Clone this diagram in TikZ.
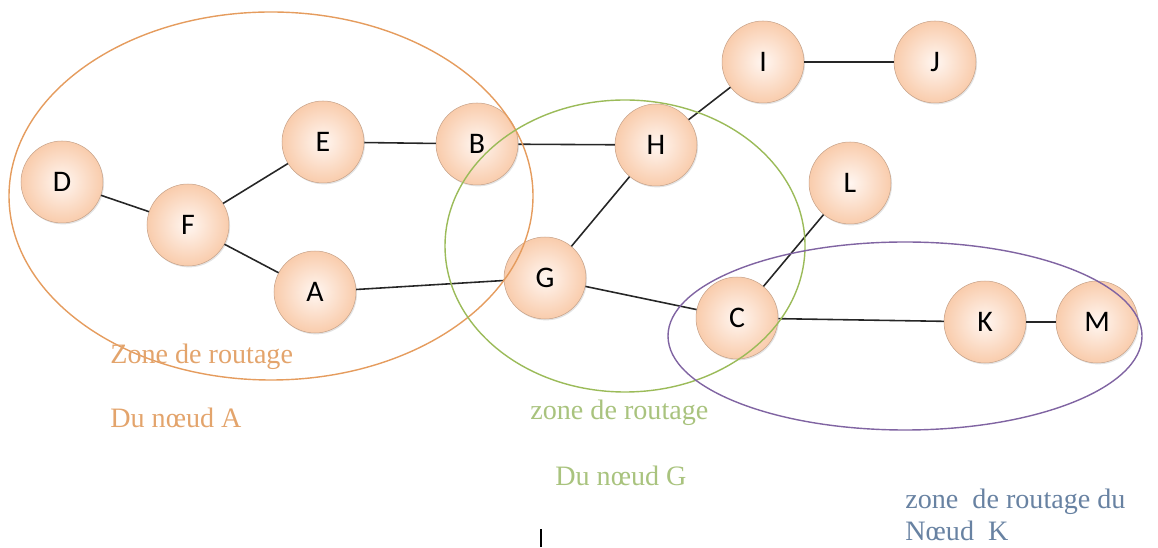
\documentclass[tikz,border=0pt]{standalone}
\usepackage{fontspec}
\setmainfont{Liberation Serif}
\newfontfamily\labelfont{Carlito}
\usetikzlibrary{shadows}

\definecolor{peach}{HTML}{F9CCAC}
\definecolor{peachlight}{HTML}{FFF6F1}
\definecolor{zoneA}{HTML}{E59C5E}
\definecolor{zoneG}{HTML}{9BBB59}
\definecolor{zoneK}{HTML}{8064A2}
\definecolor{textA}{HTML}{E3A46C}
\definecolor{textG}{HTML}{A9C37E}
\definecolor{textK}{HTML}{6882A2}

\tikzset{
	noeud/.style={circle, minimum size=1.64cm, inner sep=0pt,
		shading=radial, inner color=peachlight, outer color=peach,
		draw=peach!80!black, line width=0.3pt,
		drop shadow={opacity=0.22, shadow xshift=0.6pt, shadow yshift=-0.8pt},
		font=\labelfont\fontsize{17}{19}\selectfont},
	lien/.style={line width=0.9pt, black!85},
	zone/.style={line width=0.8pt},
	legende/.style={anchor=west, inner sep=0pt, font=\fontsize{16}{18}\selectfont}
}

\begin{document}
\begin{tikzpicture}[x=0.02cm, y=0.02cm]
	\useasboundingbox (0,0) rectangle (1158,547);
	% les noeuds
	\node[noeud] (D) at (62,365) {D};
	\node[noeud] (F) at (188,322) {F};
	\node[noeud] (E) at (323,405) {E};
	\node[noeud] (B) at (477,403) {B};
	\node[noeud] (A) at (315,255) {A};
	\node[noeud] (G) at (545,269) {G};
	\node[noeud] (H) at (656,402) {H};
	\node[noeud] (I) at (763,485) {I};
	\node[noeud] (J) at (935,485) {J};
	\node[noeud] (L) at (850,364) {L};
	\node[noeud] (C) at (737,229) {C};
	\node[noeud] (K) at (985,225) {K};
	\node[noeud] (M) at (1097,225) {M};
	% les liens
	\draw[lien] (D) -- (F);
	\draw[lien] (F) -- (E);
	\draw[lien] (F) -- (A);
	\draw[lien] (E) -- (B);
	\draw[lien] (B) -- (H);
	\draw[lien] (H) -- (I);
	\draw[lien] (I) -- (J);
	\draw[lien] (H) -- (G);
	\draw[lien] (A) -- (G);
	\draw[lien] (G) -- (C);
	\draw[lien] (C) -- (L);
	\draw[lien] (C) -- (K);
	\draw[lien] (K) -- (M);
	% les zones de routage
	\draw[zone, zoneA] (271,351) ellipse (262 and 184);
	\draw[zone, zoneG] (625,301) ellipse (180 and 146);
	\draw[zone, zoneK] (905,211) ellipse (237 and 94);
	\node[legende, textA] (zA1) at (110,190) {Zone de routage};
	\node[legende, textA] (zA2) at (110,129) {Du nœud A};
	\node[legende, textG] (zG1) at (530,134) {zone de routage};
	\node[legende, textG] (zG2) at (555,71) {Du nœud G};
	\node[legende, textK] (zK1) at (905,45) {zone\ \ de routage du};
	\node[legende, textK] (zK2) at (905,16) {Nœud\ \ K};
	\draw[line width=1.6pt] (541,0) -- (541,18);
\end{tikzpicture}
\end{document}
